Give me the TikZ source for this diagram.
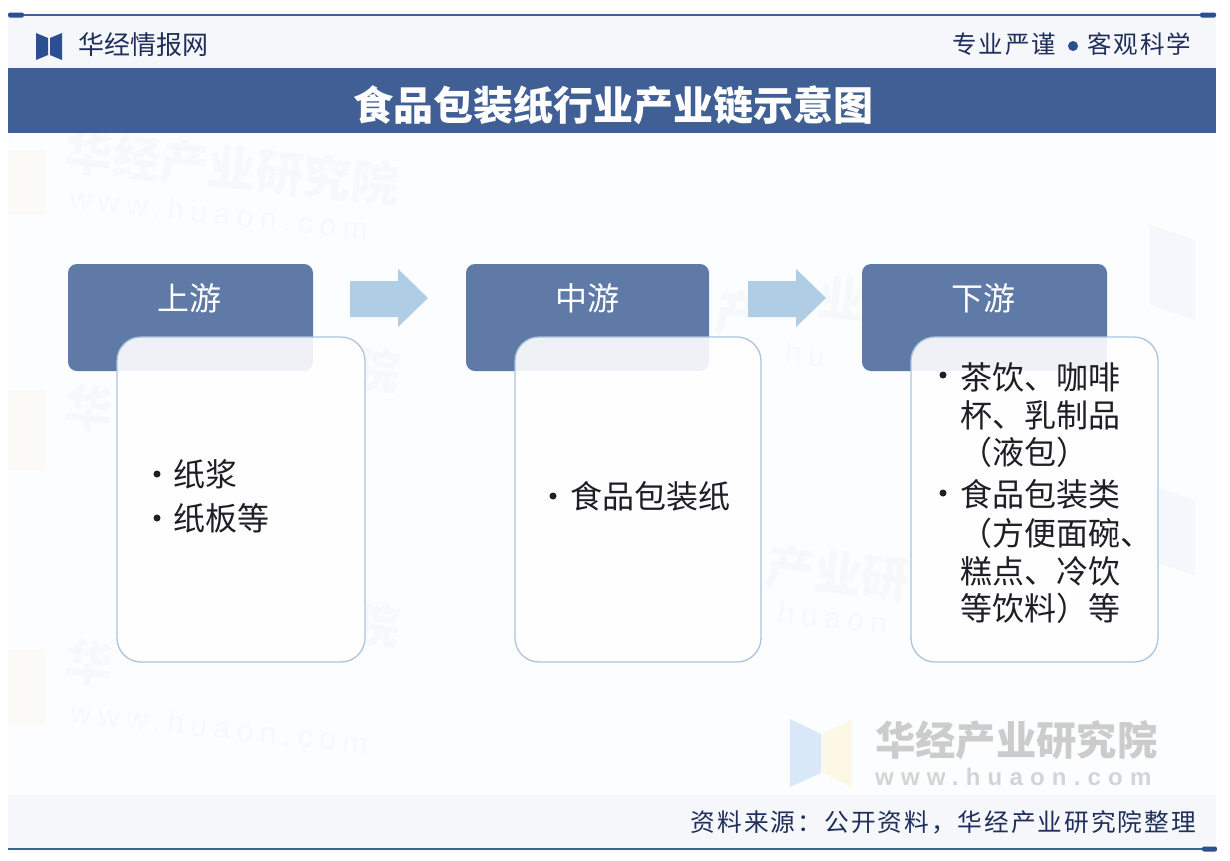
\documentclass[tikz,border=0pt]{standalone}
\usepackage{fontspec}
\setmainfont{Noto Sans CJK SC}
\newfontfamily\spaced[LetterSpace=8]{Noto Sans CJK SC}
\newfontfamily\latinwm[LetterSpace=22]{Liberation Sans}
\newfontfamily\latinbig[LetterSpace=30]{Liberation Sans}
\definecolor{navy}{HTML}{3F5F95}
\definecolor{ink}{HTML}{1F2F5A}
\definecolor{headblue}{HTML}{5F7AA6}
\definecolor{edgeblue}{HTML}{A9C5E0}
\definecolor{arrowblue}{HTML}{AFCDE5}
\definecolor{logoblue}{HTML}{2B4F8F}
\definecolor{bodytext}{HTML}{1E1E26}
\definecolor{pagetint}{HTML}{FCFDFE}
\definecolor{bandtint}{HTML}{F5F7FB}
\definecolor{bigblue}{HTML}{D9E8F8}
\definecolor{bigyellow}{HTML}{FDF8E6}
\tikzset{
  x=1pt,y=-1pt,
  headbox/.style={fill=headblue,rounded corners=9pt},
  bodybox/.style={fill=white,fill opacity=.9,draw=edgeblue,line width=1.3pt,rounded corners=24pt},
  headtext/.style={text=white,font=\fontsize{32}{38}\selectfont,anchor=center,inner sep=0pt},
  bodytxt/.style={text=bodytext,font=\fontsize{32}{38}\selectfont,anchor=west,inner sep=0pt},
  bulletdot/.style={circle,fill=bodytext,inner sep=0pt,minimum size=7pt},
  blockarrow/.style={fill=arrowblue},
  wm/.style={text=black,opacity=.018,font=\fontsize{48}{56}\bfseries\selectfont,anchor=west,inner sep=0pt,rotate=-6},
  wmurl/.style={text=black,opacity=.018,font=\latinwm\fontsize{30}{34}\selectfont,anchor=west,inner sep=0pt,rotate=-6},
  pill/.style={fill=logoblue,rounded corners=2pt},
  rulebar/.style={draw=navy,line width=1.3pt}
}
\begin{document}
\begin{tikzpicture}
\useasboundingbox (0,0) rectangle (1230,860);
\fill[white] (0,0) rectangle (1230,860);
\fill[pagetint] (8,15) rectangle (1216,850);
\fill[bandtint] (8,15) rectangle (1216,68);
\fill[bandtint] (8,795) rectangle (1216,849);
% faint watermarks, only where the boxes leave them visible
\node[wm] (wma) at (65,150) {华经产业研究院};
\node[wmurl] (wua) at (70,198) {www.huaon.com};
\node[wm] (wmb1) at (65,405) {华};
\node[wm] (wmb2) at (352,367) {院};
\node[wm] (wmc1) at (65,660) {华};
\node[wm] (wmc2) at (352,622) {院};
\node[wmurl] (wuc) at (70,712) {www.huaon.com};
\node[wm] (wmd1) at (715,312) {产};
\node[wm] (wmd2) at (818,296) {业};
\node[wmurl] (wud) at (785,352) {hu};
\node[wm] (wme) at (766,566) {产业研};
\node[wmurl] (wue) at (778,612) {huaon};
\fill[yellow!40!orange,opacity=.03] (8,150) rectangle (45,215);
\fill[yellow!40!orange,opacity=.03] (8,390) rectangle (45,470);
\fill[yellow!40!orange,opacity=.03] (8,650) rectangle (45,725);
\fill[cyan!60!blue,opacity=.03] (1150,225) -- (1195,240) -- (1195,320) -- (1150,305) -- cycle;
\fill[cyan!60!blue,opacity=.03] (1150,485) -- (1195,500) -- (1195,575) -- (1150,560) -- cycle;
% rules
\draw[rulebar] (8,15) -- (1216,15);
\draw[rulebar] (8,849) -- (1216,849);
\fill[pill] (8,12.5) rectangle (24,17.5);
\fill[pill] (1200,12.5) rectangle (1216,17.5);
\fill[pill] (1202,846.5) rectangle (1217,851.5);
% header
\fill[logoblue] (36,33) -- (48,38) -- (48,55) -- (36,60) -- cycle;
\fill[logoblue] (50,38) -- (62,33) -- (62,60) -- (50,55) -- cycle;
\node[text=ink,font=\fontsize{26}{30}\selectfont,anchor=west,inner sep=0pt] (brand) at (78,45) {华经情报网};
\node[text=ink,font=\spaced\fontsize{24.5}{30}\selectfont,anchor=west,inner sep=0pt] (motto1) at (952,44) {专业严谨};
\node[circle,fill=logoblue,inner sep=0pt,minimum size=10pt] (mottodot) at (1073,46) {};
\node[text=ink,font=\spaced\fontsize{24.5}{30}\selectfont,anchor=west,inner sep=0pt] (motto2) at (1087,44) {客观科学};
% title band
\node[fill=navy,minimum width=1208pt,minimum height=65pt,inner sep=0pt,anchor=north west] (band) at (8,68) {};
\node[text=white,font=\fontsize{40}{46}\bfseries\selectfont,inner sep=0pt] (title) at (613,105) {食品包装纸行业产业链示意图};
% big watermark
\fill[bigblue] (790,719) -- (821,734) -- (821,773) -- (790,787) -- cycle;
\fill[bigyellow] (822,734) -- (852,720) -- (852,787) -- (822,773) -- cycle;
\node[text=black!20,font=\fontsize{40.3}{46}\bfseries\selectfont,inner sep=0pt,anchor=west] (wmbig) at (875,740) {华经产业研究院};
\node[text=black!17,font=\latinbig\bfseries\fontsize{24}{28}\selectfont,inner sep=0pt,anchor=west] (wmurlbig) at (875,777) {www.huaon.com};
% footer
\node[text=ink,font=\spaced\fontsize{24.7}{30}\selectfont,inner sep=0pt,anchor=east] (source) at (1196,822) {资料来源：公开资料，华经产业研究院整理};
% header boxes
\path[headbox] (68,264) rectangle (313,371);
\path[headbox] (466,264) rectangle (709,371);
\path[headbox] (862,264) rectangle (1107,371);
\node[headtext] (h1) at (189,298) {上游};
\node[headtext] (h2) at (587,298) {中游};
\node[headtext] (h3) at (983,298) {下游};
% body boxes
\path[bodybox] (117,337) rectangle (365,662);
\path[bodybox] (515,337) rectangle (761,662);
\path[bodybox] (911,337) rectangle (1158,662);
% block arrows
\fill[blockarrow] (350,281) -- (398,281) -- (398,269) -- (428,298) -- (398,327) -- (398,317) -- (350,317) -- cycle;
\fill[blockarrow] (748,281) -- (796,281) -- (796,269) -- (826,298) -- (796,327) -- (796,317) -- (748,317) -- cycle;
% body text
\node[bulletdot] (d1) at (157,474) {};
\node[bodytxt] (t1) at (173,474) {纸浆};
\node[bulletdot] (d2) at (157,518) {};
\node[bodytxt] (t2) at (173,518) {纸板等};
\node[bulletdot] (d3) at (553,496) {};
\node[bodytxt] (t3) at (570,496) {食品包装纸};
\node[bulletdot] (d4) at (943,375) {};
\node[bodytxt] (t4) at (960,377) {茶饮、咖啡};
\node[bodytxt] (t5) at (960,415) {杯、乳制品};
\node[bodytxt] (t6) at (960,452) {（液包）};
\node[bulletdot] (d5) at (943,493) {};
\node[bodytxt] (t7) at (960,494) {食品包装类};
\node[bodytxt] (t8) at (960,533) {（方便面碗、};
\node[bodytxt] (t9) at (960,571) {糕点、冷饮};
\node[bodytxt] (t10) at (960,608) {等饮料）等};
\end{tikzpicture}
\end{document}
